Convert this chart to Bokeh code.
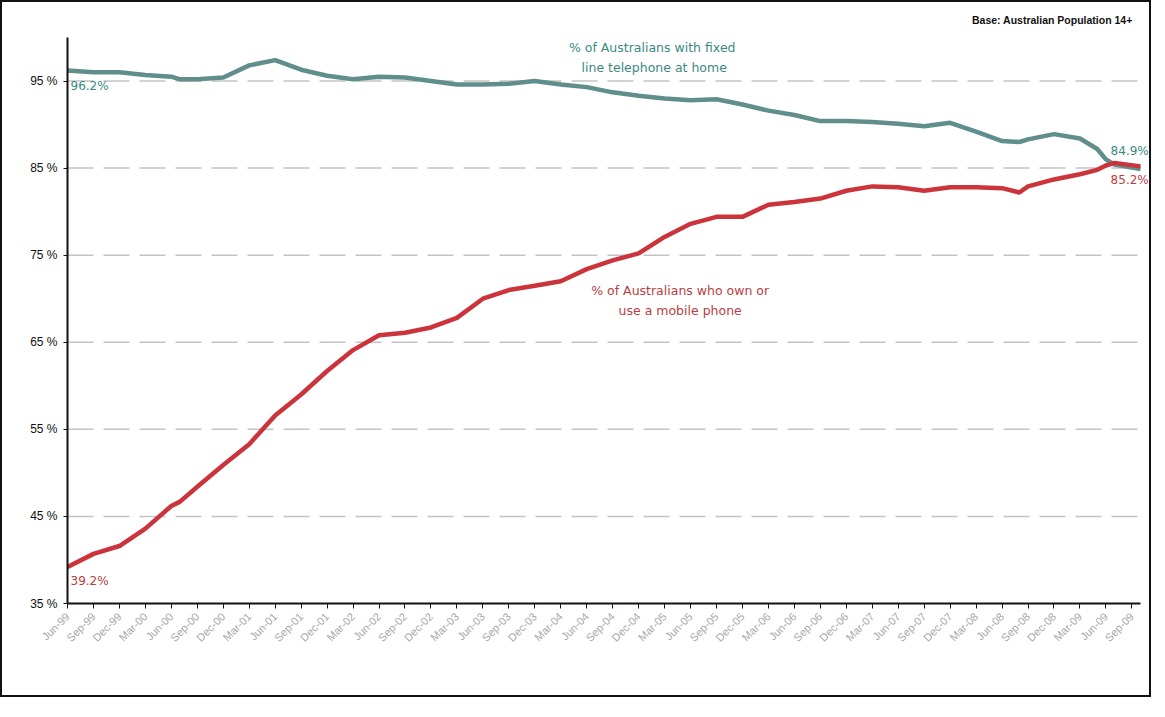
import math
from bokeh.plotting import figure
from bokeh.models import Label, FixedTicker, Range1d
from bokeh.embed import file_html
from bokeh.resources import INLINE

# ---- data -------------------------------------------------------------
quarter_labels = [
    "Jun-99", "Sep-99", "Dec-99",
    "Mar-00", "Jun-00", "Sep-00", "Dec-00",
    "Mar-01", "Jun-01", "Sep-01", "Dec-01",
    "Mar-02", "Jun-02", "Sep-02", "Dec-02",
    "Mar-03", "Jun-03", "Sep-03", "Dec-03",
    "Mar-04", "Jun-04", "Sep-04", "Dec-04",
    "Mar-05", "Jun-05", "Sep-05", "Dec-05",
    "Mar-06", "Jun-06", "Sep-06", "Dec-06",
    "Mar-07", "Jun-07", "Sep-07", "Dec-07",
    "Mar-08", "Jun-08", "Sep-08", "Dec-08",
    "Mar-09", "Jun-09", "Sep-09",
]
# month index counted from Jun-99
months = [0, 3, 6, 9, 12, 13, 15, 18, 21, 24, 27, 30, 33, 36, 39, 42, 45, 48,
          51, 54, 57, 60, 63, 66, 69, 72, 75, 78, 81, 84, 87, 90, 93, 96, 99,
          102, 105, 108, 110, 111, 114, 117, 119, 120, 121, 124]
fixed_line_pct = [96.2, 96.0, 96.0, 95.7, 95.5, 95.2, 95.2, 95.4, 96.8, 97.4,
                  96.3, 95.6, 95.2, 95.5, 95.4, 95.0, 94.6, 94.6, 94.7, 95.0,
                  94.6, 94.3, 93.7, 93.3, 93.0, 92.8, 92.9, 92.3, 91.6, 91.1,
                  90.4, 90.4, 90.3, 90.1, 89.8, 90.2, 89.2, 88.1, 88.0, 88.3,
                  88.9, 88.4, 87.2, 86.0, 85.4, 84.9]
mobile_pct = [39.2, 40.7, 41.6, 43.6, 46.2, 46.7, 48.4, 50.9, 53.3, 56.6,
              59.0, 61.7, 64.1, 65.8, 66.1, 66.7, 67.8, 70.0, 71.0, 71.5,
              72.0, 73.4, 74.4, 75.2, 77.1, 78.6, 79.4, 79.4, 80.8, 81.1,
              81.5, 82.4, 82.9, 82.8, 82.4, 82.8, 82.8, 82.7, 82.2, 82.9,
              83.7, 84.3, 84.8, 85.3, 85.6, 85.2]
y_ticks = [35, 45, 55, 65, 75, 85, 95]
y_tick_labels = ["35 %", "45 %", "55 %", "65 %", "75 %", "85 %", "95 %"]
fixed_title = ["% of Australians  with fixed", "line telephone at home"]
mobile_title = ["% of Australians who own or", "use a mobile phone"]
base_note = "Base: Australian Population 14+"

# ---- styles -----------------------------------------------------------
TEAL_LINE = "#5f8e8c"
TEAL_TEXT = "#3a8a82"
RED_LINE = "#cc343c"
RED_TEXT = "#b8403f"

X_MAX = months[-1]
Y_MIN, Y_MAX = 35, 100

p = figure(width=1151, height=697, output_backend="svg", toolbar_location=None,
           x_range=Range1d(0, X_MAX + 1.5), y_range=Range1d(Y_MIN, Y_MAX + 2.87),
           min_border_left=65, min_border_right=0, min_border_top=10,
           min_border_bottom=96)
p.styles = {"border": "2px solid #111111"}
p.outline_line_color = None
p.background_fill_color = "white"
p.border_fill_color = "white"

# axes
p.yaxis.bounds = (Y_MIN, Y_MAX)
p.yaxis.ticker = FixedTicker(ticks=y_ticks)
p.yaxis.major_label_overrides = {t: l for t, l in zip(y_ticks, y_tick_labels)}
p.yaxis.axis_line_width = 2
p.yaxis.axis_line_color = "#111111"
p.yaxis.major_tick_out = 4
p.yaxis.major_tick_in = 0
p.yaxis.minor_tick_out = 0
p.yaxis.minor_tick_in = 0
p.yaxis.major_tick_line_color = "#111111"
p.yaxis.major_label_text_font = "Liberation Sans"
p.yaxis.major_label_text_font_size = "12px"
p.yaxis.major_label_text_color = "#111111"
p.yaxis.major_label_standoff = 6

x_ticks = [3 * i for i in range(len(quarter_labels))]
p.xaxis.bounds = (0, X_MAX)
p.xaxis.ticker = FixedTicker(ticks=x_ticks)
p.xaxis.major_label_overrides = {t: l for t, l in zip(x_ticks, quarter_labels)}
p.xaxis.major_label_orientation = math.pi / 4
p.xaxis.axis_line_width = 2
p.xaxis.axis_line_color = "#111111"
p.xaxis.major_tick_out = 5
p.xaxis.major_tick_in = 0
p.xaxis.minor_tick_out = 0
p.xaxis.major_tick_line_color = "#111111"
p.xaxis.major_label_text_font = "Liberation Sans"
p.xaxis.major_label_text_font_size = "11px"
p.xaxis.major_label_text_color = "#a8a8a8"
p.xaxis.major_label_standoff = 6

# grid (dashed horizontal lines over the data span only)
p.xgrid.visible = False
p.ygrid.visible = False
grid_y = y_ticks[1:]
p.segment(x0=[0] * len(grid_y), y0=grid_y, x1=[X_MAX] * len(grid_y), y1=grid_y,
          line_color="#c4c4c4", line_width=1.5, line_dash="26 10")

# lines
p.line(months, fixed_line_pct, line_color=TEAL_LINE, line_width=4.5)
p.line(months, mobile_pct, line_color=RED_LINE, line_width=4.5)

# annotations
def add_label(x, y, text, color, size="12px", font="DejaVu Sans", align="left",
              style="normal"):
    p.add_layout(Label(x=x, y=y, text=text, text_color=color,
                       text_font=font, text_font_size=size,
                       text_align=align, text_baseline="middle",
                       text_font_style=style))

add_label(0.35, fixed_line_pct[0] - 1.8, f"{fixed_line_pct[0]:.1f}%", TEAL_TEXT)
add_label(0.35, mobile_pct[0] - 1.6, f"{mobile_pct[0]:.1f}%", RED_TEXT)
add_label(X_MAX + 0.95, fixed_line_pct[-1] + 2.1, f"{fixed_line_pct[-1]:.1f}%",
          TEAL_TEXT, align="right")
add_label(X_MAX + 0.95, mobile_pct[-1] - 1.6, f"{mobile_pct[-1]:.1f}%", RED_TEXT,
          align="right")

add_label(67.8, 98.8, fixed_title[0], TEAL_TEXT, size="12.5px", align="center")
add_label(67.8, 96.5, fixed_title[1], TEAL_TEXT, size="12.5px", align="center")
add_label(70.8, 70.9, mobile_title[0], RED_TEXT, size="12.5px", align="center")
add_label(70.8, 68.6, mobile_title[1], RED_TEXT, size="12.5px", align="center")

add_label(X_MAX - 0.9, 102.05, base_note, "#111111", size="10.5px",
          font="Liberation Sans", align="right", style="bold")

open("out.html", "w").write(file_html(p, INLINE))
